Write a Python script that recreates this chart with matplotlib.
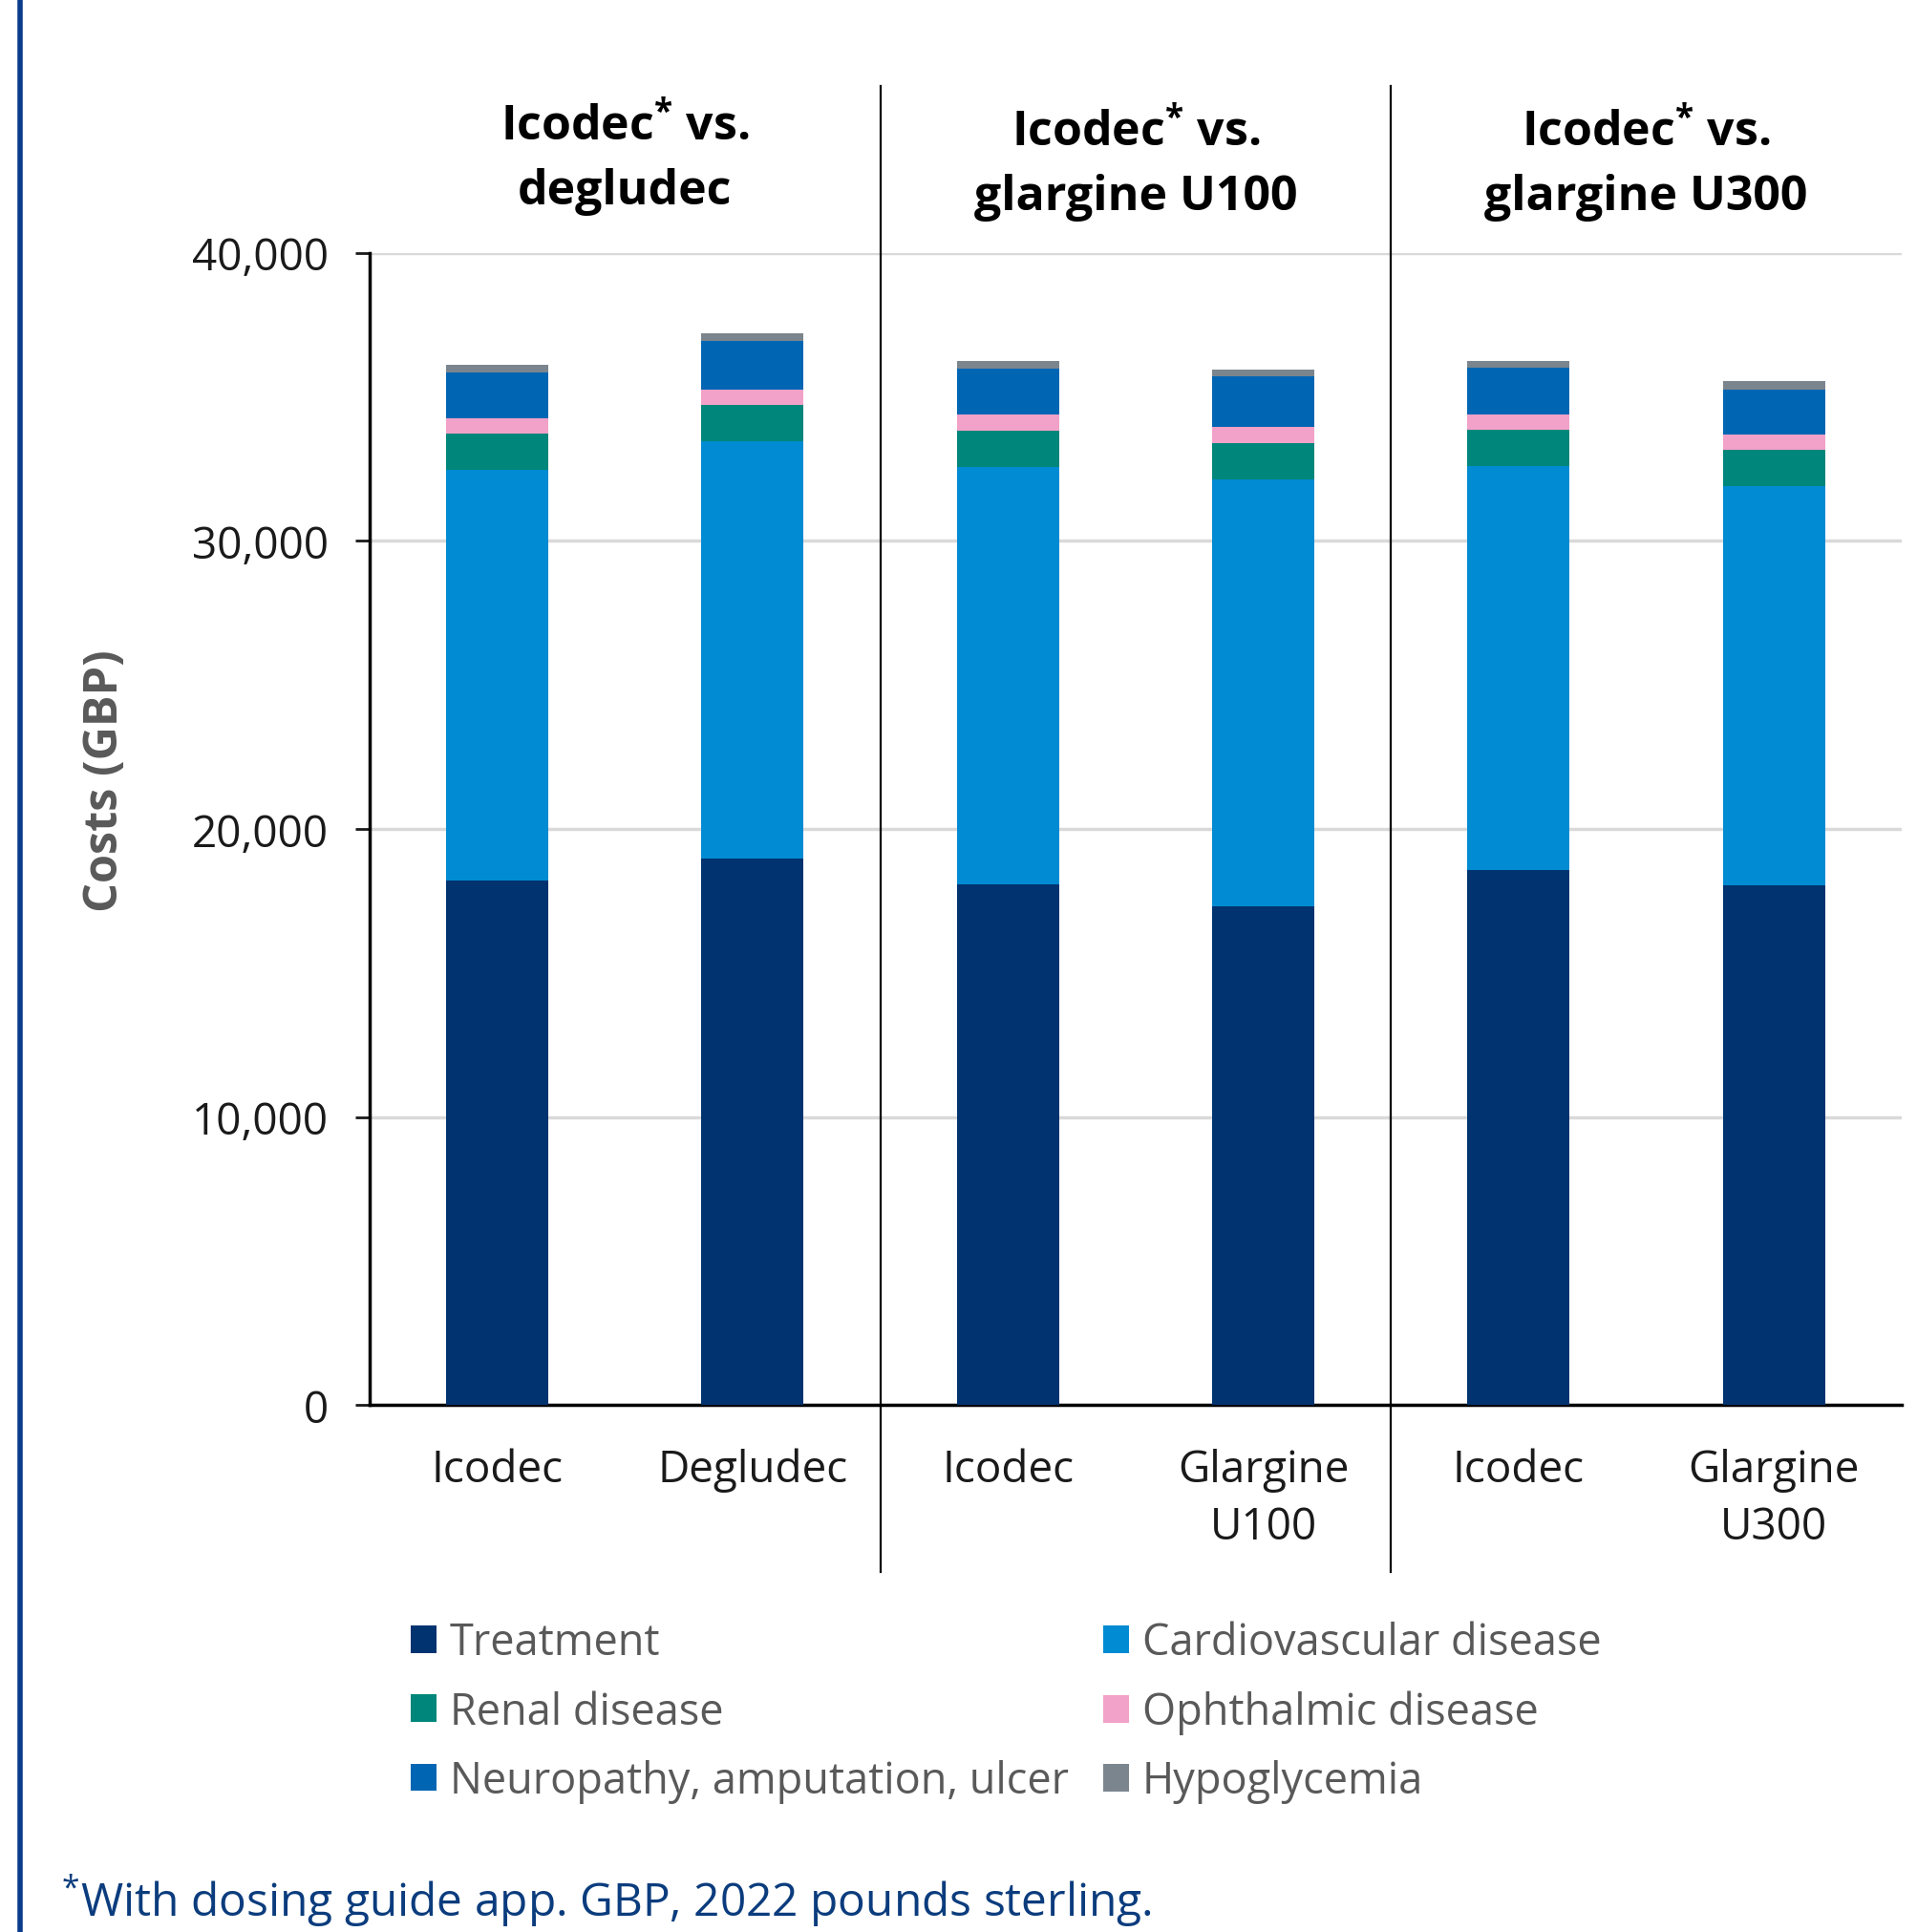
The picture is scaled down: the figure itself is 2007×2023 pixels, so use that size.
import matplotlib
matplotlib.use("Agg")
import matplotlib.pyplot as plt
from matplotlib.lines import Line2D
from matplotlib.patches import Patch

plt.rcParams['font.family'] = ['Open Sans', 'DejaVu Sans']
plt.rcParams['mathtext.default'] = 'regular'

# data (GBP)
bar_labels = ["Icodec", "Degludec", "Icodec", "Glargine\nU100", "Icodec", "Glargine\nU300"]
group_titles = ["Icodec$^{*}$ vs.\ndegludec", "Icodec$^{*}$ vs.\nglargine U100", "Icodec$^{*}$ vs.\nglargine U300"]
categories = ["Treatment", "Cardiovascular disease", "Renal disease",
              "Ophthalmic disease", "Neuropathy, amputation, ulcer", "Hypoglycemia"]
treatment = [18220, 18990, 18090, 17330, 18570, 18050]
cardiovascular = [14260, 14480, 14480, 14800, 14040, 13850]
renal = [1250, 1250, 1240, 1260, 1260, 1260]
ophthalmic = [530, 530, 580, 580, 520, 530]
neuropathy = [1600, 1700, 1600, 1740, 1610, 1560]
hypoglycemia = [260, 260, 270, 250, 260, 290]
yticks = [0, 10000, 20000, 30000, 40000]
ytick_labels = ["0", "10,000", "20,000", "30,000", "40,000"]

colors = ["#00336F", "#008BD2", "#00867A", "#F2A1C8", "#0066B3", "#7B858E"]
series = [treatment, cardiovascular, renal, ophthalmic, neuropathy, hypoglycemia]

fig = plt.figure(figsize=(20.08, 20.24), dpi=100)
ax = fig.add_axes([0.1927, 0.2725, 0.7988, 0.5962])

x = list(range(len(bar_labels)))
bottom = [0] * len(x)
for vals, col in zip(series, colors):
    ax.bar(x, vals, width=0.4, bottom=bottom, color=col, zorder=3)
    bottom = [b + v for b, v in zip(bottom, vals)]

ax.set_xlim(-0.5, 5.5)
ax.set_ylim(0, 40000)
ax.set_yticks(yticks)
ax.set_yticklabels(ytick_labels)
ax.set_xticks(x)
ax.set_xticklabels(bar_labels, linespacing=1.4)
ax.tick_params(axis='y', labelsize=33, length=11, width=2, pad=20, colors="#1a1a1a")
ax.tick_params(axis='x', labelsize=33, length=0, pad=32, colors="#1a1a1a")
ax.yaxis.grid(True, color="#d9d9d9", linewidth=2.5, zorder=0)
ax.set_axisbelow(True)
for s in ["top", "right"]:
    ax.spines[s].set_visible(False)
ax.spines["left"].set_linewidth(2.5)
ax.spines["bottom"].set_linewidth(2.5)

# group dividers reaching above and below the plot
for xd in [1.5, 3.5]:
    ax.plot([xd, xd], [-5800, 45800], color="black", linewidth=1.6,
            clip_on=False, zorder=4)

title_y = [43250, 43050, 43050]
for i, t in enumerate(group_titles):
    ax.text(2 * i + 0.5, title_y[i], t, ha="center", va="center", fontsize=36,
            fontweight="bold", color="black", linespacing=1.43)

fig.text(0.055, 0.596, "Costs (GBP)", rotation=90, ha="center", va="center",
         fontsize=35, fontweight="bold", color="#595959")

order = [0, 2, 4, 1, 3, 5]
handles = [Patch(facecolor=colors[i], label=categories[i]) for i in order]
fig.legend(handles=handles, loc="upper left", bbox_to_anchor=(0.203, 0.172),
           ncol=2, frameon=False, fontsize=32.5, labelcolor="#595959",
           handlelength=0.6, handleheight=0.6, handletextpad=0.3,
           columnspacing=0.8, labelspacing=0.58, borderpad=0)

fig.text(0.032, 0.0165, "$^{*}$With dosing guide app. GBP, 2022 pounds sterling.",
         ha="left", va="center", fontsize=34.5, color="#0B3C7D")

fig.add_artist(Line2D([0.0105, 0.0105], [0, 1], color="#0B3C8C", linewidth=4,
                      transform=fig.transFigure))

fig.savefig("out.png", dpi=100)
